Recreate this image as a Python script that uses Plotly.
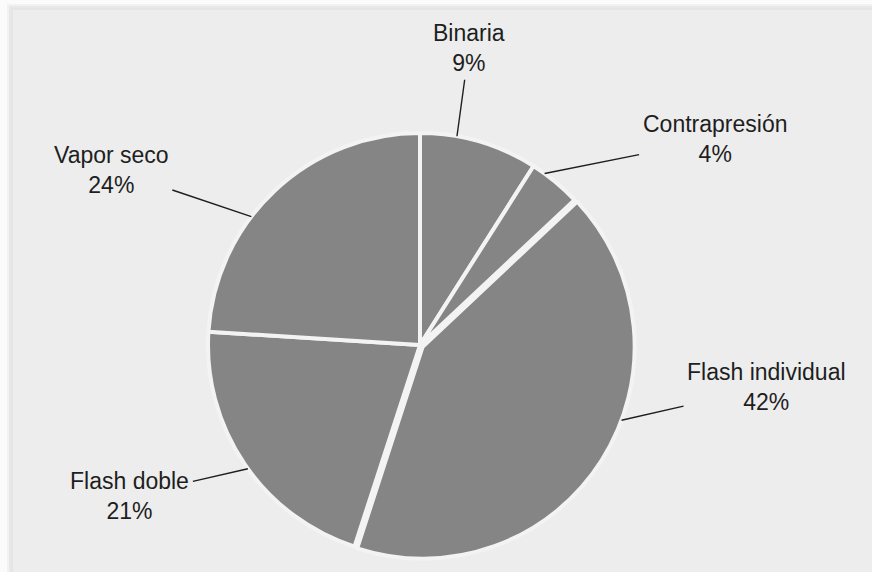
import math
import plotly.graph_objects as go

# Share of installed geothermal capacity by plant type
labels = ["Binaria", "Contrapresión", "Flash individual", "Flash doble", "Vapor seco"]
shares = [9, 4, 42, 21, 24]

W, H = 872, 572
CX, CY, R = 420, 345, 212          # pie centre and radius in pixels
PULL = [0, 0, 0.015, 0, 0]
SLICE = "#858585"
GAP = "#f3f3f3"
INK = "#1e1e1e"

# where along each slice the leader line meets the rim (0 = start, 1 = end)
leader_frac = [0.31, 0.25, 0.42, 0.48, 0.39]
# text centre offset from the rim point, in pixels
text_offset = [(12, -88), (170, -34), (145, -33), (-118, 27), (-140, -47)]

fig = go.Figure()

half = R * (1 + max(PULL))
fig.add_trace(go.Pie(
    labels=labels,
    values=shares,
    sort=False,
    direction="clockwise",
    rotation=0,
    pull=PULL,
    textinfo="none",
    hoverinfo="label+percent",
    marker=dict(colors=[SLICE] * len(labels), line=dict(color=GAP, width=4)),
    domain=dict(x=[(CX - half) / W, (CX + half) / W],
                y=[1 - (CY + half) / H, 1 - (CY - half) / H]),
    showlegend=False,
))

total = sum(shares)
start = 0.0
annotations = []
for lab, v, f, (dx, dy), p in zip(labels, shares, leader_frac, text_offset, PULL):
    span = 360.0 * v / total
    ang = math.radians(start + f * span)
    mid = math.radians(start + span / 2)
    ox = p * R * math.sin(mid)
    oy = -p * R * math.cos(mid)
    px = CX + ox + R * math.sin(ang)
    py = CY + oy - R * math.cos(ang)
    pct = round(100 * v / total)
    annotations.append(dict(
        x=px / W, y=1 - py / H, xref="paper", yref="paper",
        ax=dx, ay=dy, axref="pixel", ayref="pixel",
        text=f"{lab}<br>{pct}%",
        showarrow=True, arrowhead=0, arrowwidth=1.4, arrowcolor=INK,
        borderpad=3, align="center",
        font=dict(family="Liberation Sans, Arial, sans-serif", size=23, color=INK),
    ))
    start += span

# light panel with a soft shadow along its top and left edges
shapes = []
for k, (col, op) in enumerate([("#d8d8d8", 0.25), ("#d8d8d8", 0.35), ("#e2e2e2", 0.5)]):
    off = 3 - k
    shapes.append(dict(type="rect", xref="paper", yref="paper", layer="below",
                       x0=(13 - off * 2) / W, x1=1.01, y0=-0.01, y1=1 - (10 - off * 2) / H,
                       fillcolor=col, opacity=op, line=dict(width=0)))
shapes.append(dict(type="rect", xref="paper", yref="paper", layer="below",
                   x0=13 / W, x1=1.01, y0=-0.01, y1=1 - 10 / H,
                   fillcolor="#ededed", line=dict(width=0)))

fig.update_layout(
    width=W, height=H,
    margin=dict(l=0, r=0, t=0, b=0),
    paper_bgcolor="#fbfbfb",
    plot_bgcolor="#ededed",
    annotations=annotations,
    shapes=shapes,
)

fig.write_html("out.html")
